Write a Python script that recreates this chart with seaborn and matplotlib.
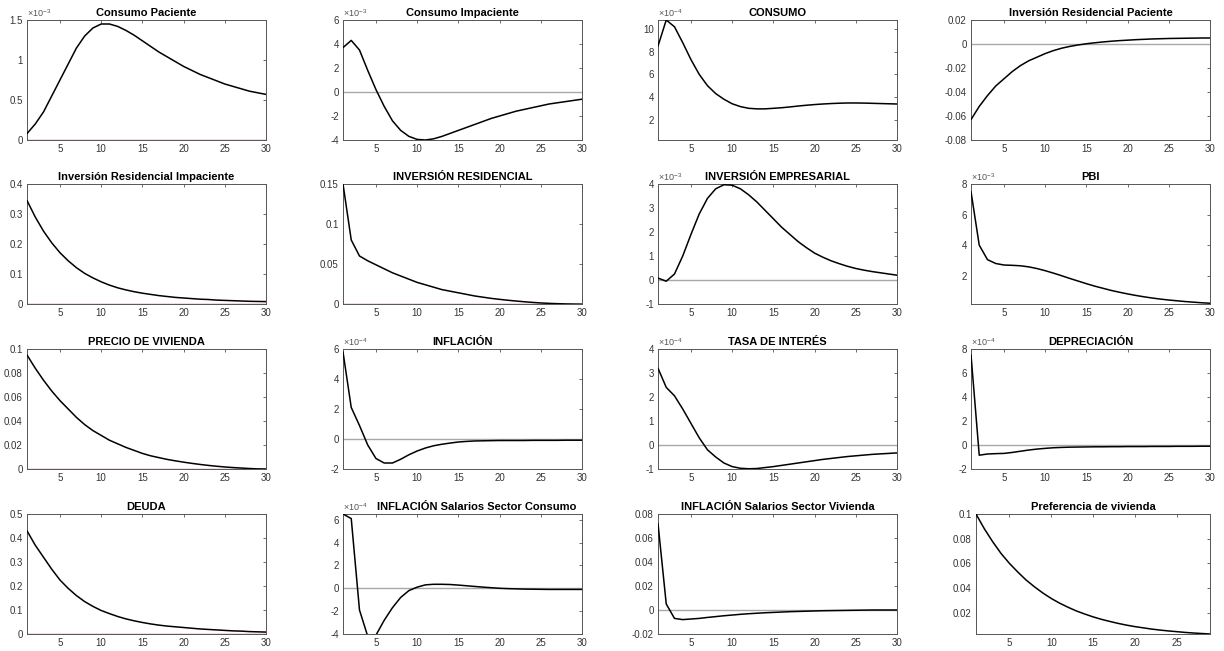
import numpy as np
import pandas as pd
import matplotlib
matplotlib.use("Agg")
import matplotlib.pyplot as plt
import seaborn as sns

# ---------------- data ----------------
periods = list(range(1, 31))

titles = ["Consumo Paciente", "Consumo Impaciente", "CONSUMO", "Inversión Residencial Paciente",
          "Inversión Residencial Impaciente", "INVERSIÓN RESIDENCIAL", "INVERSIÓN EMPRESARIAL", "PBI",
          "PRECIO DE VIVIENDA", "INFLACIÓN", "TASA DE INTERÉS", "DEPRECIACIÓN",
          "DEUDA", "INFLACIÓN Salarios Sector Consumo", "INFLACIÓN Salarios Sector Vivienda",
          "Preferencia de vivienda"]

# values in displayed units (multiply by 10^exponent for true value)
consumo_paciente = [0.08, 0.2, 0.35, 0.55, 0.75, 0.95, 1.15, 1.3, 1.4, 1.45, 1.45, 1.42, 1.37, 1.31, 1.24,
                    1.17, 1.1, 1.04, 0.98, 0.92, 0.87, 0.82, 0.78, 0.74, 0.70, 0.67, 0.64, 0.61, 0.59, 0.57]
consumo_impaciente = [3.7, 4.3, 3.5, 1.8, 0.2, -1.2, -2.4, -3.2, -3.7, -3.95, -4.0, -3.9, -3.7, -3.45, -3.2,
                      -2.95, -2.7, -2.45, -2.2, -2.0, -1.8, -1.6, -1.45, -1.3, -1.15, -1.0, -0.9, -0.8, -0.7, -0.6]
consumo = [8.5, 10.8, 10.2, 8.8, 7.3, 6.0, 5.0, 4.3, 3.8, 3.4, 3.15, 3.0, 2.95, 2.95, 3.0,
           3.05, 3.12, 3.2, 3.27, 3.33, 3.38, 3.42, 3.45, 3.47, 3.47, 3.46, 3.44, 3.42, 3.4, 3.38]
inv_res_paciente = [-0.063, -0.052, -0.043, -0.035, -0.029, -0.023, -0.018, -0.014, -0.011, -0.008,
                    -0.0055, -0.0035, -0.002, -0.0008, 0.0002, 0.001, 0.0017, 0.0023, 0.0028, 0.0032,
                    0.0036, 0.0039, 0.0042, 0.0044, 0.0046, 0.0047, 0.0048, 0.0049, 0.005, 0.005]
inv_res_impaciente = [0.345, 0.29, 0.243, 0.204, 0.171, 0.144, 0.121, 0.102, 0.087, 0.074, 0.063, 0.054,
                      0.047, 0.041, 0.036, 0.032, 0.028, 0.025, 0.022, 0.020, 0.018, 0.016, 0.015, 0.013,
                      0.012, 0.011, 0.010, 0.009, 0.0085, 0.008]
inv_residencial = [0.15, 0.08, 0.06, 0.054, 0.049, 0.044, 0.039, 0.035, 0.031, 0.027, 0.024, 0.021, 0.018,
                   0.016, 0.014, 0.012, 0.010, 0.0085, 0.007, 0.0058, 0.0047, 0.0037, 0.0028, 0.002, 0.0013,
                   0.0008, 0.0004, 0.0001, -0.0001, -0.0002]
inv_empresarial = [0.08, -0.05, 0.25, 1.0, 1.9, 2.75, 3.4, 3.8, 3.97, 3.95, 3.8, 3.55, 3.25, 2.9, 2.55,
                   2.2, 1.9, 1.6, 1.35, 1.12, 0.95, 0.8, 0.68, 0.57, 0.48, 0.41, 0.35, 0.3, 0.25, 0.2]
pbi = [7.5, 4.0, 3.05, 2.8, 2.7, 2.68, 2.65, 2.58, 2.47, 2.33, 2.17, 2.0, 1.82, 1.65, 1.48,
       1.32, 1.18, 1.04, 0.92, 0.81, 0.71, 0.62, 0.54, 0.47, 0.41, 0.36, 0.31, 0.27, 0.23, 0.2]
precio_vivienda = [0.095, 0.084, 0.074, 0.065, 0.057, 0.050, 0.043, 0.037, 0.032, 0.028, 0.024, 0.021,
                   0.018, 0.0155, 0.013, 0.011, 0.0095, 0.008, 0.0068, 0.0057, 0.0047, 0.0038, 0.003,
                   0.0023, 0.0017, 0.0012, 0.0008, 0.0004, 0.0001, 0.0]
inflacion = [5.8, 2.1, 0.9, -0.4, -1.3, -1.6, -1.6, -1.35, -1.05, -0.8, -0.6, -0.45, -0.35, -0.27, -0.2,
             -0.16, -0.13, -0.12, -0.11, -0.1, -0.1, -0.1, -0.1, -0.09, -0.09, -0.09, -0.09, -0.08, -0.08, -0.08]
tasa_interes = [3.2, 2.4, 2.05, 1.5, 0.9, 0.3, -0.2, -0.5, -0.75, -0.9, -0.97, -0.99, -0.98, -0.94, -0.9,
                -0.85, -0.8, -0.75, -0.7, -0.65, -0.6, -0.56, -0.52, -0.48, -0.45, -0.42, -0.39, -0.37, -0.35, -0.33]
depreciacion = [7.5, -0.85, -0.75, -0.72, -0.7, -0.62, -0.52, -0.42, -0.34, -0.28, -0.23, -0.2, -0.18,
                -0.17, -0.16, -0.15, -0.15, -0.14, -0.14, -0.13, -0.13, -0.13, -0.12, -0.12, -0.12,
                -0.11, -0.11, -0.11, -0.1, -0.1]
deuda = [0.43, 0.37, 0.32, 0.27, 0.225, 0.19, 0.16, 0.135, 0.115, 0.098, 0.085, 0.073, 0.063, 0.055, 0.048,
         0.042, 0.037, 0.033, 0.030, 0.027, 0.024, 0.021, 0.019, 0.017, 0.015, 0.013, 0.012, 0.010, 0.009, 0.008]
infl_sal_consumo = [6.5, 6.1, -1.9, -4.2, -4.1, -2.8, -1.7, -0.8, -0.2, 0.1, 0.3, 0.35, 0.35, 0.33, 0.28,
                    0.22, 0.16, 0.1, 0.05, 0.0, -0.03, -0.05, -0.07, -0.08, -0.09, -0.1, -0.1, -0.1, -0.1, -0.1]
infl_sal_vivienda = [0.072, 0.005, -0.007, -0.008, -0.0075, -0.007, -0.0062, -0.0055, -0.0048, -0.0042,
                     -0.0036, -0.0031, -0.0027, -0.0023, -0.002, -0.0017, -0.0014, -0.0012, -0.001, -0.0008,
                     -0.0006, -0.0005, -0.0004, -0.0003, -0.0002, -0.0001, 0.0, 0.0, 0.0, 0.0]
preferencia = [0.1, 0.088, 0.0775, 0.068, 0.06, 0.053, 0.0465, 0.041, 0.036, 0.0316, 0.0278, 0.0245,
               0.0215, 0.019, 0.0167, 0.0147, 0.013, 0.0114, 0.01, 0.0088, 0.0078, 0.0068, 0.006, 0.0053,
               0.0047, 0.0041, 0.0036, 0.0032, 0.0028]

series = [consumo_paciente, consumo_impaciente, consumo, inv_res_paciente,
          inv_res_impaciente, inv_residencial, inv_empresarial, pbi,
          precio_vivienda, inflacion, tasa_interes, depreciacion,
          deuda, infl_sal_consumo, infl_sal_vivienda, preferencia]

exponents = [-3, -3, -4, None, None, None, -3, -3, None, -4, -4, -4, None, -4, None, None]

ylims = [(0, 1.5), (-4, 6), (0.2, 10.8), (-0.08, 0.02),
         (0, 0.4), (0, 0.15), (-1, 4), (0.15, 8),
         (0, 0.1), (-2, 6), (-1, 4), (-2, 8),
         (0, 0.5), (-4, 6.5), (-0.02, 0.08), (0.0028, 0.1)]

ytick_labels = [["0", "0.5", "1", "1.5"], ["-4", "-2", "0", "2", "4", "6"],
                ["2", "4", "6", "8", "10"], ["-0.08", "-0.06", "-0.04", "-0.02", "0", "0.02"],
                ["0", "0.1", "0.2", "0.3", "0.4"], ["0", "0.05", "0.1", "0.15"],
                ["-1", "0", "1", "2", "3", "4"], ["2", "4", "6", "8"],
                ["0", "0.02", "0.04", "0.06", "0.08", "0.1"], ["-2", "0", "2", "4", "6"],
                ["-1", "0", "1", "2", "3", "4"], ["-2", "0", "2", "4", "6", "8"],
                ["0", "0.1", "0.2", "0.3", "0.4", "0.5"], ["-4", "-2", "0", "2", "4", "6"],
                ["-0.02", "0", "0.02", "0.04", "0.06", "0.08"], ["0.02", "0.04", "0.06", "0.08", "0.1"]]

xtick_values = [5, 10, 15, 20, 25, 30]
# zero reference line: None = not drawn
zero_line = ["red", "gray", None, "gray", "red", "red", "gray", None,
             "red", "gray", "gray", "gray", "red", "gray", "gray", None]

# ---------------- drawing ----------------
sns.set_style("white")
plt.rcParams["font.family"] = ["Liberation Sans", "DejaVu Sans"]
plt.rcParams["mathtext.fontset"] = "custom"
plt.rcParams["mathtext.rm"] = "Liberation Sans"
plt.rcParams["mathtext.it"] = "Liberation Sans"

W, H = 1224, 651
fig = plt.figure(figsize=(W / 100, H / 100), dpi=100)
fig.patch.set_facecolor("white")

col_left = [27, 343, 658, 971]
ax_w = 239
row_top = [20, 184, 349, 514]
ax_h = 120

zero_colors = {"red": "#cc4a4a", "gray": "#a8a8a8"}

for i, (title, vals) in enumerate(zip(titles, series)):
    r, c = divmod(i, 4)
    left = col_left[c] + (5 if i == 15 else 0)
    width = ax_w - (5 if i == 15 else 0)
    ax = fig.add_axes([left / W, 1 - (row_top[r] + ax_h) / H, width / W, ax_h / H])
    x = periods[:len(vals)]
    df = pd.DataFrame({"periodo": x, "valor": vals})
    if zero_line[i] is not None:
        ax.axhline(0, color=zero_colors[zero_line[i]], lw=1.0, zorder=1)
    sns.lineplot(data=df, x="periodo", y="valor", ax=ax, color="black", lw=1.1,
                 estimator=None, zorder=3)
    ax.set_xlim(1, x[-1])
    ax.set_ylim(*ylims[i])
    ax.set_xticks([v for v in xtick_values if v <= x[-1]])
    ax.set_xticklabels([str(v) for v in xtick_values if v <= x[-1]])
    ax.set_yticks([float(t) for t in ytick_labels[i]])
    ax.set_yticklabels(ytick_labels[i])
    ax.set_xlabel("")
    ax.set_ylabel("")
    ax.tick_params(direction="in", length=2.5, width=0.6, colors="#555555", labelsize=7,
                   top=True, right=True, pad=3, labelcolor="#333333")
    for s in ax.spines.values():
        s.set_color("#555555")
        s.set_linewidth(0.7)
        s.set_visible(True)
    title_x = 0.56 if len(title) > 31 and exponents[i] is not None else 0.5
    ax.set_title(title, fontsize=8, fontweight="bold", pad=3, color="black", x=title_x)
    if exponents[i] is not None:
        ax.text(0.0, 1.012, r"$\times10^{%d}$" % exponents[i], transform=ax.transAxes,
                fontsize=6.5, color="#555555", ha="left", va="bottom")
    ax.grid(False)

fig.savefig("out.png", dpi=100, facecolor="white")
